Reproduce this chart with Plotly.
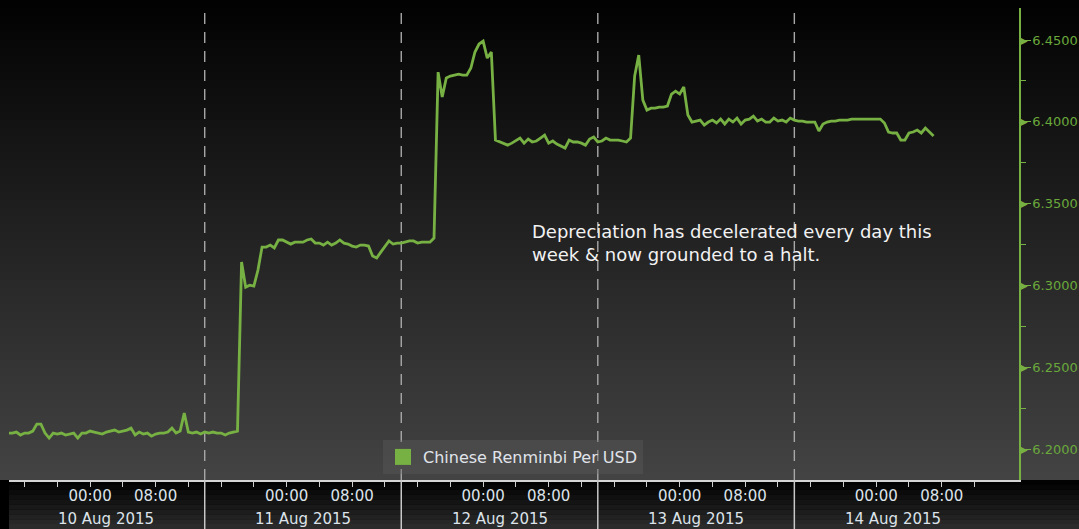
import plotly.graph_objects as go
import pandas as pd

# ---------------- data ----------------
series_name = "Chinese Renminbi Per USD"
start_time = "2015-08-09 14:00"
sample_step = "30min"
usdcny = [
    6.2098, 6.2098, 6.2104, 6.2086, 6.2098, 6.2098, 6.2110, 6.2153, 6.2153, 6.2098,
    6.2067, 6.2098, 6.2092, 6.2098, 6.2086, 6.2092, 6.2098, 6.2067, 6.2098, 6.2098,
    6.2110, 6.2104, 6.2098, 6.2092, 6.2104, 6.2110, 6.2116, 6.2104, 6.2110, 6.2116,
    6.2128, 6.2086, 6.2104, 6.2092, 6.2098, 6.2079, 6.2092, 6.2098, 6.2098, 6.2104,
    6.2128, 6.2098, 6.2110, 6.2220, 6.2104, 6.2098, 6.2104, 6.2092, 6.2104, 6.2098,
    6.2104, 6.2098, 6.2098, 6.2086, 6.2098, 6.2104, 6.2110, 6.3143, 6.2990, 6.3002,
    6.2996, 6.3094, 6.3235, 6.3235, 6.3247, 6.3229, 6.3278, 6.3278, 6.3265, 6.3253,
    6.3265, 6.3265, 6.3265, 6.3278, 6.3284, 6.3259, 6.3259, 6.3247, 6.3265, 6.3247,
    6.3259, 6.3278, 6.3259, 6.3253, 6.3241, 6.3235, 6.3247, 6.3247, 6.3241, 6.3180,
    6.3168, 6.3204, 6.3235, 6.3272, 6.3253, 6.3259, 6.3259, 6.3265, 6.3272, 6.3272,
    6.3259, 6.3265, 6.3265, 6.3265, 6.3290, 6.4304, 6.4152, 6.4268, 6.4280, 6.4286,
    6.4292, 6.4286, 6.4286, 6.4329, 6.4427, 6.4476, 6.4494, 6.4390, 6.4427, 6.3889,
    6.3877, 6.3870, 6.3858, 6.3870, 6.3883, 6.3901, 6.3870, 6.3895, 6.3877, 6.3883,
    6.3901, 6.3919, 6.3870, 6.3883, 6.3864, 6.3852, 6.3840, 6.3889, 6.3877, 6.3877,
    6.3870, 6.3858, 6.3895, 6.3907, 6.3877, 6.3883, 6.3901, 6.3889, 6.3889, 6.3889,
    6.3883, 6.3877, 6.3901, 6.4280, 6.4408, 6.4133, 6.4072, 6.4084, 6.4084, 6.4090,
    6.4090, 6.4097, 6.4170, 6.4188, 6.4170, 6.4213, 6.4042, 6.3999, 6.4005, 6.4011,
    6.3980, 6.3999, 6.4011, 6.3993, 6.4017, 6.3987, 6.4017, 6.3999, 6.4023, 6.3987,
    6.4011, 6.4017, 6.4035, 6.4005, 6.4017, 6.3999, 6.3999, 6.4023, 6.4005, 6.4011,
    6.3999, 6.4023, 6.4011, 6.4005, 6.4005, 6.3999, 6.3999, 6.3999, 6.3944, 6.3987,
    6.3999, 6.4005, 6.4005, 6.4011, 6.4011, 6.4011, 6.4017, 6.4017, 6.4017, 6.4017,
    6.4017, 6.4017, 6.4017, 6.4017, 6.3993, 6.3938, 6.3932, 6.3932, 6.3889, 6.3889,
    6.3932, 6.3938, 6.3950, 6.3932, 6.3962, 6.3938, 6.3913,
]
y_tick_values = [6.20, 6.25, 6.30, 6.35, 6.40, 6.45]
y_tick_labels = ["6.2000", "6.2500", "6.3000", "6.3500", "6.4000", "6.4500"]
y_minor_values = [6.225, 6.275, 6.325, 6.375, 6.425]
day_boundaries = ["2015-08-10 14:00", "2015-08-11 14:00", "2015-08-12 14:00", "2015-08-13 14:00"]
day_labels = ["10 Aug 2015", "11 Aug 2015", "12 Aug 2015", "13 Aug 2015", "14 Aug 2015"]
day_label_times = ["2015-08-10 02:00", "2015-08-11 02:00", "2015-08-12 02:00",
                   "2015-08-13 02:00", "2015-08-14 02:00"]
hour_tick_start, hour_tick_end, hour_tick_step = "2015-08-09 16:00", "2015-08-14 12:00", "4h"
labelled_hours = {0: "00:00", 8: "08:00"}
annotation_text = "Depreciation has decelerated every day this<br>week &amp; now grounded to a halt."

times = pd.date_range(start_time, periods=len(usdcny), freq=sample_step)
hour_ticks = pd.date_range(hour_tick_start, hour_tick_end, freq=hour_tick_step)
hour_text = [labelled_hours.get(t.hour, "") if t.minute == 0 else "" for t in hour_ticks]

# ---------------- layout geometry ----------------
W, H = 1079, 529
L, R, T, B = 9, 60, 8, 49
PW, PH = W - L - R, H - T - B
GREEN = "#77b143"
GREEN_TXT = "#6aa83b"
FONT = "DejaVu Sans"


def px_x(x):
    return (x - L) / PW


def px_y(y):
    return (H - B - y) / PH


fig = go.Figure()
fig.add_trace(go.Scatter(x=times, y=usdcny, mode="lines", line=dict(color=GREEN, width=2.8),
                         showlegend=False, name=series_name))
fig.add_trace(go.Scatter(x=[None], y=[None], mode="markers", name=series_name,
                         marker=dict(symbol="square", size=16, color=GREEN)))

shapes = []
# vertical gradient behind the plot (black top -> grey bottom)
n = 60
top_px, bot_px = 0, H - B
for k in range(n):
    y0 = top_px + (bot_px - top_px) * k / n
    y1 = top_px + (bot_px - top_px) * (k + 1) / n
    c = int(2 + 66 * (k + 0.5) / n)
    shapes.append(dict(type="rect", xref="paper", yref="paper", x0=px_x(0), x1=px_x(W),
                       y0=px_y(y1), y1=px_y(y0), fillcolor=f"rgb({c},{c},{c})",
                       line=dict(width=0), layer="below"))
# gradient in the time band
m = 10
for k in range(m):
    y0 = bot_px + (H - bot_px) * k / m
    y1 = bot_px + (H - bot_px) * (k + 1) / m
    c = int(0 + 46 * (k + 0.5) / m)
    shapes.append(dict(type="rect", xref="paper", yref="paper", x0=px_x(L), x1=px_x(W),
                       y0=px_y(y1), y1=px_y(y0), fillcolor=f"rgb({c},{c},{c})",
                       line=dict(width=0), layer="below"))
for d in day_boundaries:
    shapes.append(dict(type="line", xref="x", yref="paper", x0=d, x1=d, y0=0, y1=1,
                       line=dict(color="#a8a8a8", width=1.4, dash="11px,8px"), layer="below"))
    shapes.append(dict(type="line", xref="x", yref="paper", x0=d, x1=d, y0=0, y1=px_y(H),
                       line=dict(color="#c8c8c8", width=1.5), layer="above"))

annotations = []
for t, lab in zip(day_label_times, day_labels):
    annotations.append(dict(x=t, xref="x", y=px_y(519), yref="paper", text=lab,
                            showarrow=False, xanchor="center", yanchor="middle",
                            font=dict(family=FONT, size=15, color="#dde3ea")))
for v in y_tick_values:
    annotations.append(dict(x=1, xref="paper", y=v, yref="y", text="▶", showarrow=False,
                            xanchor="left", yanchor="middle", xshift=-1,
                            font=dict(family=FONT, size=10, color=GREEN)))
annotations.append(dict(x=px_x(530), xref="paper", y=px_y(219), yref="paper",
                        text=annotation_text, showarrow=False, xanchor="left", yanchor="top",
                        align="left", font=dict(family=FONT, size=18, color="#f2f2f2")))

fig.update_layout(
    width=W, height=H,
    margin=dict(l=L, r=R, t=T, b=B, pad=0),
    paper_bgcolor="#000000",
    plot_bgcolor="rgba(0,0,0,0)",
    font=dict(family=FONT),
    shapes=shapes,
    annotations=annotations,
    showlegend=True,
    legend=dict(x=px_x(383), y=px_y(440), xanchor="left", yanchor="top",
                bgcolor="rgba(95,95,95,0.35)", borderwidth=0,
                font=dict(family=FONT, size=16, color="#e0e4ea"),
                itemwidth=30, tracegroupgap=0),
    xaxis=dict(type="date", range=["2015-08-09 14:06", "2015-08-14 17:26"],
               tickmode="array", tickvals=list(hour_ticks), ticktext=hour_text,
               ticks="outside", ticklen=5, tickwidth=1, tickcolor="#cfcfcf",
               ticklabelstandoff=-4,
               showline=True, linecolor="#d4d4d4", linewidth=1.5,
               showgrid=False, zeroline=False, automargin=False,
               tickfont=dict(family=FONT, size=15, color="#dde3ea")),
    yaxis=dict(side="right", range=[6.1811, 6.4696], tickmode="array",
               tickvals=y_tick_values, ticktext=y_tick_labels,
               ticks="outside", ticklen=10, tickwidth=1, tickcolor=GREEN,
               ticklabelstandoff=-1,
               showline=True, linecolor=GREEN, linewidth=1.5,
               showgrid=False, zeroline=False, automargin=False,
               tickfont=dict(family=FONT, size=13, color=GREEN_TXT),
               minor=dict(tickmode="array", tickvals=y_minor_values, ticks="outside",
                          ticklen=5, tickwidth=1, tickcolor=GREEN)),
)

fig.write_html("out.html", config={"displayModeBar": False},
               post_script="document.body.style.margin='0px';document.body.style.background='#000';")
